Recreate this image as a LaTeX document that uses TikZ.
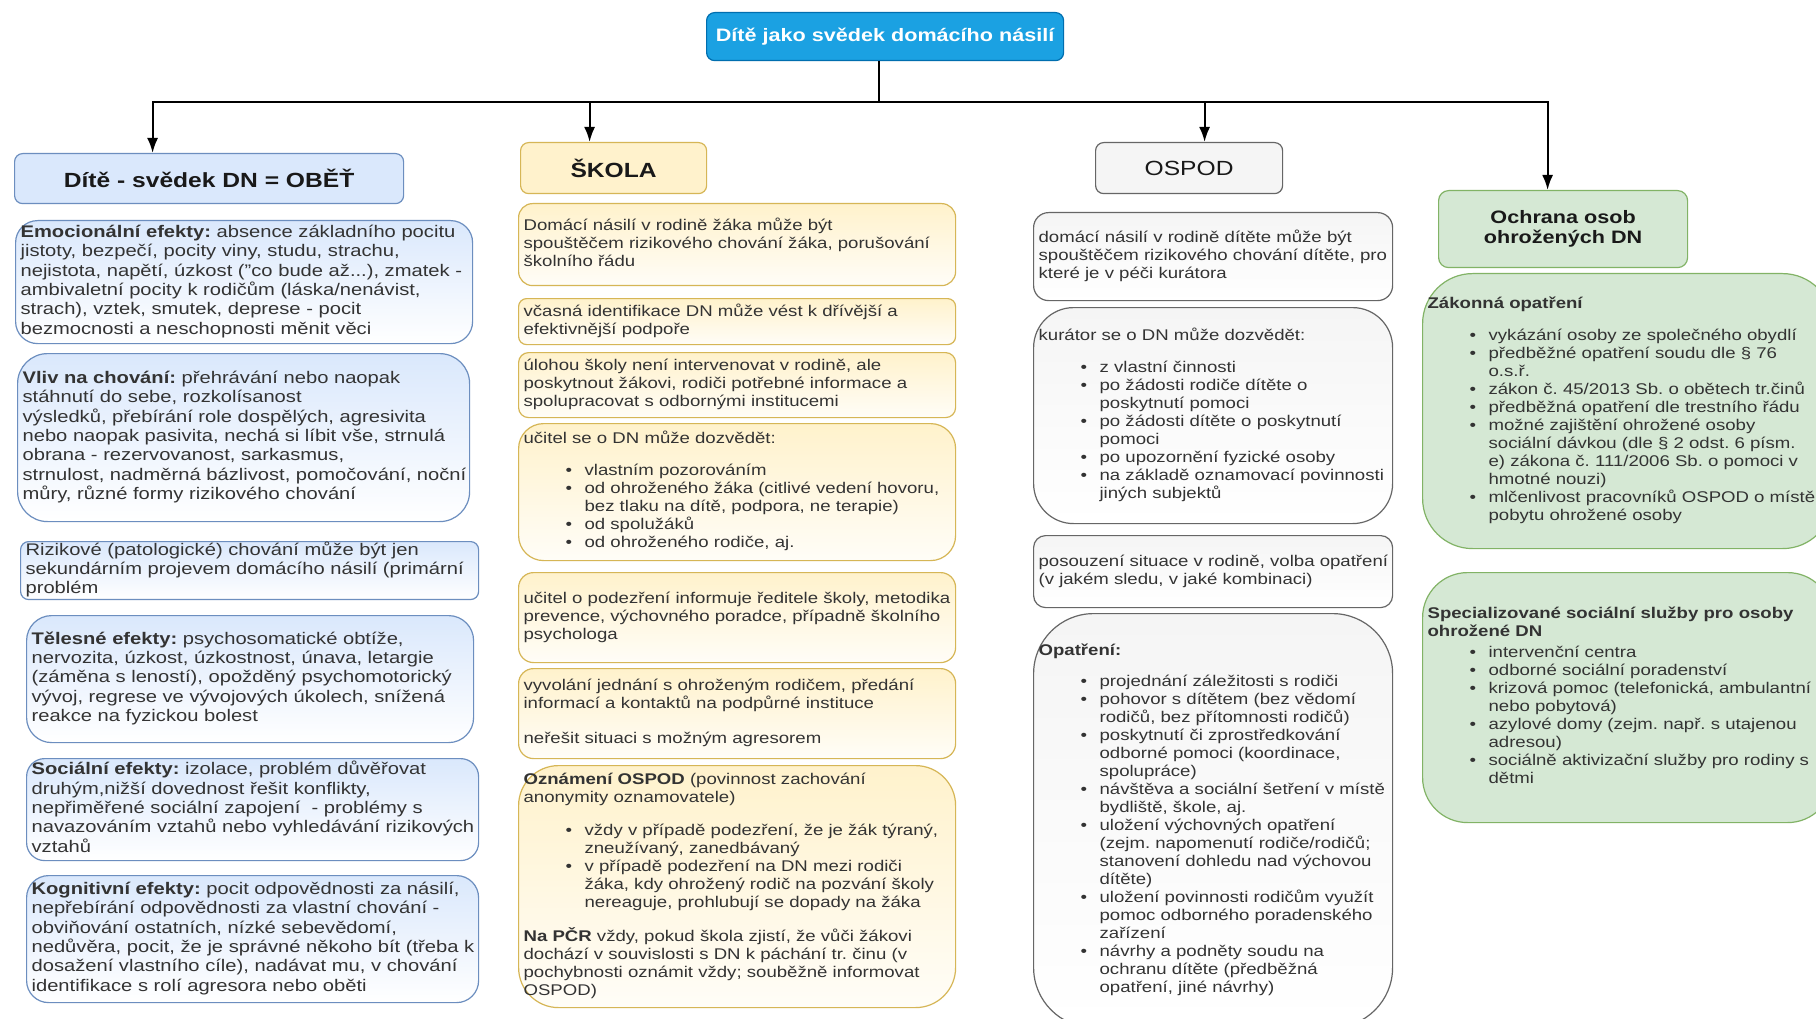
\documentclass[tikz,border=0pt]{standalone}
\usepackage{fontspec}
\setmainfont{Liberation Sans}[FakeStretch=1.2]
\usetikzlibrary{arrows.meta,positioning}
\frenchspacing

\definecolor{titleblue}{HTML}{1BA1E2}
\definecolor{titleedge}{HTML}{006EAF}
\definecolor{bluefill}{HTML}{DAE8FC}
\definecolor{blueedge}{HTML}{6C8EBF}
\definecolor{yellowfill}{HTML}{FFF2CC}
\definecolor{yellowedge}{HTML}{D6B656}
\definecolor{grayfill}{HTML}{F5F5F5}
\definecolor{grayedge}{HTML}{666666}
\definecolor{greenfill}{HTML}{D5E8D4}
\definecolor{greenedge}{HTML}{82B366}
\definecolor{textgray}{HTML}{333333}

\newcommand\lfont{\fontsize{16.8}{19.3}\selectfont}
\newcommand\mfont{\fontsize{15.5}{18}\selectfont}
\newcommand\hfont{\fontsize{20.5}{24}\selectfont\bfseries}
\newcommand\txtlines[1]{\begin{tabular}{@{}l@{}}#1\end{tabular}}
\newcommand\bulit{\hspace*{42pt}\makebox[19pt][l]{\textbullet}}
\newcommand\bulcont{\hspace*{61pt}}

\tikzset{
    link/.style={line width=2.2pt, draw=black},
    arr/.style={link, -{Latex[length=15pt,width=11pt]}},
    hdr/.style={anchor=north west, draw, line width=1.2pt, rounded corners=8pt,
        align=center, inner sep=2pt, text=black!90, font=\hfont},
    box/.style={anchor=north west, draw, line width=1.2pt, align=left,
        inner xsep=5pt, inner ysep=2pt, text=textgray},
    sz/.style 2 args={text width=#1, minimum height=#2},
    lbox/.style={box, draw=blueedge, top color=bluefill, bottom color=white, font=\lfont},
    sbox/.style={box, draw=yellowedge, top color=yellowfill, bottom color=yellowfill!15, font=\mfont},
    obox/.style={box, draw=grayedge, top color=grayfill, bottom color=white, font=\mfont},
    gbox/.style={box, draw=greenedge, fill=greenfill, font=\mfont}
}

\begin{document}
\begin{tikzpicture}[x=1pt, y=-1pt]
    \path[use as bounding box, fill=white] (0,0) rectangle (1816,1019);

    \node (title) at (706,12) [hdr, fill=titleblue, draw=titleedge, text=white,
        minimum width=357pt, minimum height=48pt,
        font=\fontsize{18}{21}\selectfont\bfseries] {Dítě jako svědek domácího násilí};
    \node (dite) at (14,153) [hdr, fill=bluefill, draw=blueedge,
        minimum width=389pt, minimum height=50pt] {Dítě - svědek DN = OBĚŤ};
    \node (skola) at (520,142) [hdr, fill=yellowfill, draw=yellowedge,
        minimum width=186pt, minimum height=51pt] {ŠKOLA};
    \node (ospod) at (1095,142) [hdr, fill=grayfill, draw=grayedge,
        minimum width=187pt, minimum height=51pt, font=\fontsize{20.5}{24}\selectfont] {OSPOD};
    \node (ochr) at (1438,190) [hdr, fill=greenfill, draw=greenedge, rounded corners=10pt,
        minimum width=249pt, minimum height=77pt,
        font=\fontsize{18}{20}\selectfont\bfseries] {Ochrana osob\\ohrožených DN};

    \draw[link] ([xshift=-6.5pt]title.south) -- ++(0,41) coordinate (fork);
    \draw[arr] (fork) -| ([xshift=-56.5pt]dite.north);
    \draw[arr] (fork) -| ([xshift=-24pt]skola.north);
    \draw[arr] (fork) -| ([xshift=15.5pt]ospod.north);
    \draw[arr] (fork) -| ([xshift=-15.5pt]ochr.north);

    % dite - svedek
    \node (emo) at (15,220) [lbox, sz={447pt}{123pt}, rounded corners=22pt] {\txtlines{%
        \textbf{Emocionální efekty:} absence základního pocitu\\
        jistoty, bezpečí, pocity viny, studu, strachu,\\
        nejistota, napětí, úzkost ("co bude až...), zmatek -\\
        ambivaletní pocity k rodičům (láska/nenávist,\\
        strach), vztek, smutek, deprese - pocit\\
        bezmocnosti a neschopnosti měnit věci}};
    \node (vliv) at (17,353) [lbox, sz={442pt}{168pt}, rounded corners=30pt] {\txtlines{%
        \textbf{Vliv na chování:} přehrávání nebo naopak\\
        stáhnutí do sebe, rozkolísanost\\
        výsledků, přebírání role dospělých, agresivita\\
        nebo naopak pasivita, nechá si líbit vše, strnulá\\
        obrana - rezervovanost, sarkasmus,\\
        strnulost, nadměrná bázlivost, pomočování, noční\\
        můry, různé formy rizikového chování}};
    \node (riz) at (20,541) [lbox, sz={448pt}{52pt}, rounded corners=8pt, inner ysep=0pt] {\txtlines{%
        Rizikové (patologické) chování může být jen\\
        sekundárním projevem domácího násilí (primární\\
        problém}};
    \node (tel) at (26,615) [lbox, sz={437pt}{127pt}, rounded corners=25pt] {\txtlines{%
        \textbf{Tělesné efekty:} psychosomatické obtíže,\\
        nervozita, úzkost, úzkostnost, únava, letargie\\
        (záměna s leností), opožděný psychomotorický\\
        vývoj, regrese ve vývojových úkolech, snížená\\
        reakce na fyzickou bolest}};
    \node (soc) at (26,758) [lbox, sz={442pt}{102pt}, rounded corners=18pt] {\txtlines{%
        \textbf{Sociální efekty:} izolace, problém důvěřovat\\
        druhým,nižší dovednost řešit konflikty,\\
        nepřiměřené sociální zapojení \ - problémy s\\
        navazováním vztahů nebo vyhledávání rizikových\\
        vztahů}};
    \node (kog) at (26,875) [lbox, sz={442pt}{127pt}, rounded corners=22pt] {\txtlines{%
        \textbf{Kognitivní efekty:} pocit odpovědnosti za násilí,\\
        nepřebírání odpovědnosti za vlastní chování -\\
        obviňování ostatních, nízké sebevědomí,\\
        nedůvěra, pocit, že je správné někoho bít (třeba k\\
        dosažení vlastního cíle), nadávat mu, v chování\\
        identifikace s rolí agresora nebo oběti}};

    % skola
    \node (s1) at (518,203) [sbox, sz={427pt}{82pt}, rounded corners=14pt] {\txtlines{%
        Domácí násilí v rodině žáka může být\\
        spouštěčem rizikového chování žáka, porušování\\
        školního řádu}};
    \node (s2) at (518,298) [sbox, sz={427pt}{46pt}, rounded corners=8pt] {\txtlines{%
        včasná identifikace DN může vést k dřívější a\\
        efektivnější podpoře}};
    \node (s3) at (518,352) [sbox, sz={427pt}{65pt}, rounded corners=10pt] {\txtlines{%
        úlohou školy není intervenovat v rodině, ale\\
        poskytnout žákovi, rodiči potřebné informace a\\
        spolupracovat s odbornými institucemi}};
    \node (s4) at (518,423) [sbox, sz={427pt}{137pt}, rounded corners=25pt] {\txtlines{%
        učitel se o DN může dozvědět:\\[14pt]
        \bulit vlastním pozorováním\\
        \bulit od ohroženého žáka (citlivé vedení hovoru,\\
        \bulcont bez tlaku na dítě, podpora, ne terapie)\\
        \bulit od spolužáků\\
        \bulit od ohroženého rodiče, aj.}};
    \node (s5) at (518,572) [sbox, sz={427pt}{90pt}, rounded corners=15pt] {\txtlines{%
        učitel o podezření informuje ředitele školy, metodika\\
        prevence, výchovného poradce, případně školního\\
        psychologa}};
    \node (s6) at (518,668) [sbox, sz={427pt}{90pt}, rounded corners=15pt] {\txtlines{%
        vyvolání jednání s ohroženým rodičem, předání\\
        informací a kontaktů na podpůrné instituce\\[17pt]
        neřešit situaci s možným agresorem}};
    \node (s7) at (518,765) [sbox, sz={427pt}{242pt}, rounded corners=40pt] {\txtlines{%
        \textbf{Oznámení OSPOD} (povinnost zachování\\
        anonymity oznamovatele)\\[15pt]
        \bulit vždy v případě podezření, že je žák týraný,\\
        \bulcont zneužívaný, zanedbávaný\\
        \bulit v případě podezření na DN mezi rodiči\\
        \bulcont žáka, kdy ohrožený rodič na pozvání školy\\
        \bulcont nereaguje, prohlubují se dopady na žáka\\[15pt]
        \textbf{Na PČR} vždy, pokud škola zjistí, že vůči žákovi\\
        dochází v souvislosti s DN k páchání tr. činu (v\\
        pochybnosti oznámit vždy; souběžně informovat\\
        OSPOD)}};

    % ospod
    \node (o1) at (1033,212) [obox, sz={349pt}{88pt}, rounded corners=15pt] {\txtlines{%
        domácí násilí v rodině dítěte může být\\
        spouštěčem rizikového chování dítěte, pro\\
        které je v péči kurátora}};
    \node (o2) at (1033,307) [obox, sz={349pt}{216pt}, rounded corners=40pt] {\txtlines{%
        kurátor se o DN může dozvědět:\\[14pt]
        \bulit z vlastní činnosti\\
        \bulit po žádosti rodiče dítěte o\\
        \bulcont poskytnutí pomoci\\
        \bulit po žádosti dítěte o poskytnutí\\
        \bulcont pomoci\\
        \bulit po upozornění fyzické osoby\\
        \bulit na základě oznamovací povinnosti\\
        \bulcont jiných subjektů}};
    \node (o3) at (1033,535) [obox, sz={349pt}{72pt}, rounded corners=12pt] {\txtlines{%
        posouzení situace v rodině, volba opatření\\
        (v jakém sledu, v jaké kombinaci)}};
    \node (o4) at (1033,613) [obox, sz={349pt}{414pt}, rounded corners=60pt] {\txtlines{%
        \textbf{Opatření:}\\[13pt]
        \bulit projednání záležitosti s rodiči\\
        \bulit pohovor s dítětem (bez vědomí\\
        \bulcont rodičů, bez přítomnosti rodičů)\\
        \bulit poskytnutí či zprostředkování\\
        \bulcont odborné pomoci (koordinace,\\
        \bulcont spolupráce)\\
        \bulit návštěva a sociální šetření v místě\\
        \bulcont bydliště, škole, aj.\\
        \bulit uložení výchovných opatření\\
        \bulcont (zejm. napomenutí rodiče/rodičů;\\
        \bulcont stanovení dohledu nad výchovou\\
        \bulcont dítěte)\\
        \bulit uložení povinnosti rodičům využít\\
        \bulcont pomoc odborného poradenského\\
        \bulcont zařízení\\
        \bulit návrhy a podněty soudu na\\
        \bulcont ochranu dítěte (předběžná\\
        \bulcont opatření, jiné návrhy)}};

    % ochrana
    \node (zak) at (1422,273) [gbox, sz={400pt}{275pt}, rounded corners=50pt] {\txtlines{%
        \textbf{Zákonná opatření}\\[14pt]
        \bulit vykázání osoby ze společného obydlí\\
        \bulit předběžné opatření soudu dle § 76\\
        \bulcont o.s.ř.\\
        \bulit zákon č. 45/2013 Sb. o obětech tr.činů\\
        \bulit předběžná opatření dle trestního řádu\\
        \bulit možné zajištění ohrožené osoby\\
        \bulcont sociální dávkou (dle § 2 odst. 6 písm.\\
        \bulcont e) zákona č. 111/2006 Sb. o pomoci v\\
        \bulcont hmotné nouzi)\\
        \bulit mlčenlivost pracovníků OSPOD o místě\\
        \bulcont pobytu ohrožené osoby}};
    \node (spec) at (1422,572) [gbox, sz={400pt}{250pt}, rounded corners=45pt] {\txtlines{%
        \textbf{Specializované sociální služby pro osoby}\\
        \textbf{ohrožené DN}\\[3pt]
        \bulit intervenční centra\\
        \bulit odborné sociální poradenství\\
        \bulit krizová pomoc (telefonická, ambulantní\\
        \bulcont nebo pobytová)\\
        \bulit azylové domy (zejm. např. s utajenou\\
        \bulcont adresou)\\
        \bulit sociálně aktivizační služby pro rodiny s\\
        \bulcont dětmi}};
\end{tikzpicture}
\end{document}
